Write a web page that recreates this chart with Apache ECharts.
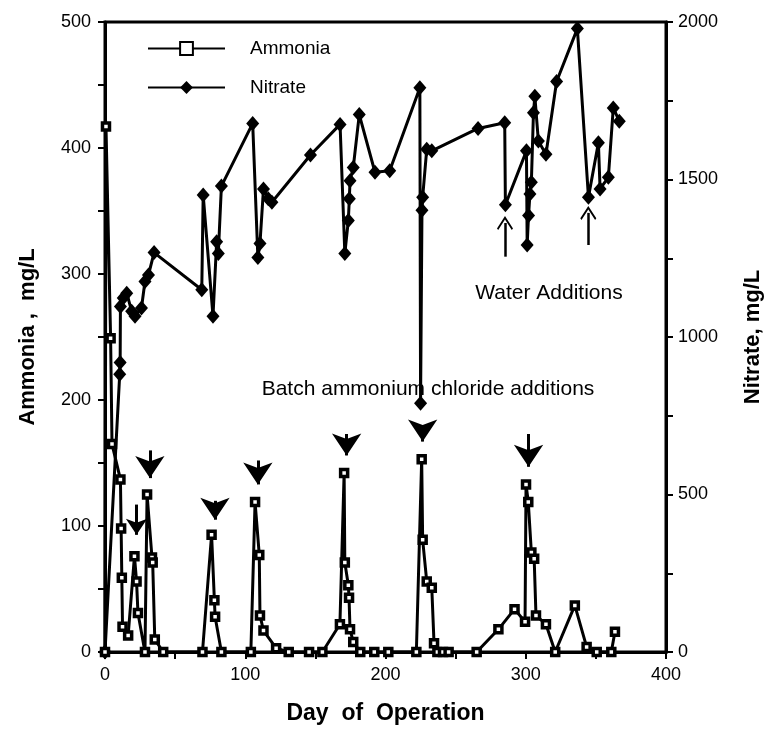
<!DOCTYPE html>
<html>
<head>
<meta charset="utf-8">
<script src="https://cdn.jsdelivr.net/npm/echarts@6/dist/echarts.min.js"></script>
<style>
  html, body { margin: 0; padding: 0; background: #fff; }
  #chart { width: 772px; height: 730px; }
</style>
</head>
<body>
<div id="chart"></div>
<script>
// ammonia (left axis, mg/L)
const ammoniaDays = [0, 0.7, 4, 5, 11, 11.5, 12, 12.5, 16.5, 21, 22.5, 23.5, 28.5, 30, 33.5, 34, 35.5, 41.5,
  69.5, 76, 78, 78.5, 83, 104, 107, 110, 110.5, 113, 122, 131, 145.5, 155,
  167.5, 170.5, 171, 173.5, 174, 174.7, 177, 182, 192, 202,
  222, 225.8, 226.5, 229.4, 233, 234.6, 237, 241, 245, 265,
  280.5, 292, 299.5, 300.2, 301.8, 304, 306, 307.3, 314.4, 321, 335, 343.4, 350.6, 361, 363.6]
const ammoniaValues = [0, 417, 249, 165, 137, 98, 59, 20, 13, 76, 56, 31, 0, 125, 75, 71, 10, 0,
  0, 93, 41, 28, 0, 0, 119, 77, 29, 17, 3, 0, 0, 0,
  22, 142, 71, 53, 43, 18, 8, 0, 0, 0,
  0, 153, 89, 56, 51, 7, 0, 0, 0, 0,
  18, 34, 24, 133, 119, 79, 74, 29, 22, 0, 37, 4, 0, 0, 16]

// nitrate (right axis, mg/L)
const nitrateDays = [0, 10.5, 10.8, 11, 13, 15.5, 19, 21.4, 26, 28.5, 31, 35,
  69, 70, 77, 79.6, 80.8, 83, 105.3, 109, 110.5, 113, 116.4, 119, 146.5,
  167.6, 171, 173.5, 174.2, 174.7, 177, 181.3, 192.5, 203,
  224.5, 225, 226, 226.5, 229.4, 233, 266, 285, 285.5,
  300.5, 301, 302, 303, 304, 305.5, 306.5, 309, 314.4, 322, 336.8,
  344.7, 351.8, 353, 358.9, 362.4, 366.7]
const nitrateValues = [0, 882, 919, 1097, 1124, 1139, 1082, 1066, 1092, 1176, 1197, 1268,
  1150, 1451, 1066, 1302, 1265, 1479, 1678, 1252, 1297, 1470, 1439, 1428, 1578,
  1675, 1265, 1370, 1439, 1496, 1538, 1706, 1523, 1528,
  1791, 790, 1402, 1444, 1596, 1591, 1662, 1680, 1420,
  1591, 1292, 1386, 1454, 1491, 1712, 1764, 1622, 1580, 1811, 1979,
  1444, 1617, 1470, 1507, 1727, 1685]

// batch ammonium chloride arrows (ammonia units): stem top -> arrow head
const batchArrowDays = [22.5, 32, 78.4, 109, 172.3, 226.5, 302]
const batchArrowTop = [117, 160, 120, 152, 173, 179, 173]
const batchArrowHead = [93, 138, 105, 133, 156, 167, 147]
const batchArrowSize = [16, 22, 22, 22, 22, 22, 22]

// water addition arrows (nitrate units): stem bottom -> arrow head
const waterArrowDays = [285.2, 344.6]
const waterArrowBottom = [1255, 1292]
const waterArrowHead = [1362, 1394]

const FONT = '"Liberation Sans", Arial, sans-serif'

const chart = echarts.init(document.getElementById('chart'))

const axisCommon = {
  axisLine: { show: true, lineStyle: { color: '#000', width: 3 } },
  axisTick: { show: true, length: 7, lineStyle: { color: '#000', width: 2 } },
  minorTick: { show: true, splitNumber: 2, length: 7, lineStyle: { color: '#000', width: 2 } },
  splitLine: { show: false },
  axisLabel: { color: '#000', fontSize: 18, fontFamily: FONT, formatter: v => String(v) }
}

const option = {
  animation: false,
  backgroundColor: '#fff',
  grid: {
    left: 105, right: 106, top: 22, bottom: 73,
    show: true, borderColor: '#000', borderWidth: 3
  },
  legend: {
    data: ['Ammonia', 'Nitrate'],
    orient: 'vertical',
    left: 142,
    top: 34,
    itemWidth: 77,
    itemHeight: 16,
    itemGap: 20,
    textStyle: { fontSize: 19, fontFamily: FONT, color: '#000', padding: [0, 0, 0, 20] }
  },
  xAxis: {
    type: 'value',
    min: 0, max: 400, interval: 100,
    ...axisCommon,
    axisLabel: { ...axisCommon.axisLabel, margin: 14 },
    name: 'Day  of  Operation',
    nameLocation: 'middle',
    nameGap: 50,
    nameTextStyle: { fontSize: 23, fontWeight: 'bold', fontFamily: FONT, color: '#000' }
  },
  yAxis: [
    {
      type: 'value',
      min: 0, max: 500, interval: 100,
      ...axisCommon,
      axisLabel: { ...axisCommon.axisLabel, margin: 14 },
      name: 'Ammonia ,  mg/L',
      nameLocation: 'middle',
      nameRotate: 90,
      nameGap: 66,
      nameTextStyle: { fontSize: 22, fontWeight: 'bold', fontFamily: FONT, color: '#000' }
    },
    {
      type: 'value',
      position: 'right',
      min: 0, max: 2000, interval: 500,
      ...axisCommon,
      axisLabel: { ...axisCommon.axisLabel, margin: 12 },
      name: 'Nitrate, mg/L',
      nameLocation: 'middle',
      nameRotate: 90,
      nameGap: 76,
      nameTextStyle: { fontSize: 22, fontWeight: 'bold', fontFamily: FONT, color: '#000' }
    }
  ],
  series: [
    {
      name: 'Ammonia',
      type: 'line',
      data: ammoniaDays.map((d, i) => [d, ammoniaValues[i]]),
      symbol: 'rect',
      symbolSize: 7,
      lineStyle: { color: '#000', width: 3 },
      itemStyle: { color: '#fff', borderColor: '#000', borderWidth: 3.5 },
      z: 3,
      markLine: {
        silent: true,
        symbol: ['none', 'arrow'],
        label: { show: false },
        lineStyle: { color: '#000', width: 3, type: 'solid' },
        data: batchArrowDays.map((d, i) => [
          { coord: [d, batchArrowTop[i]] },
          { coord: [d, batchArrowHead[i]], symbolSize: batchArrowSize[i] }
        ])
      }
    },
    {
      name: 'Nitrate',
      type: 'line',
      yAxisIndex: 1,
      data: nitrateDays.map((d, i) => [d, nitrateValues[i]]),
      symbol: 'diamond',
      symbolSize: [13, 15],
      lineStyle: { color: '#000', width: 3 },
      itemStyle: { color: '#000' },
      z: 2,
      markLine: {
        silent: true,
        symbol: ['none', 'path://M0,0L10,12L8.5,13.5L0,3.5L-8.5,13.5L-10,12Z'],
        label: { show: false },
        lineStyle: { color: '#000', width: 2.5, type: 'solid' },
        data: waterArrowDays.map((d, i) => [
          { coord: [d, waterArrowBottom[i]] },
          { coord: [d, waterArrowHead[i]], symbolSize: [16, 14] }
        ])
      }
    }
  ],
  graphic: [
    {
      type: 'text',
      x: 549, y: 293,
      style: { text: 'Water Additions', font: '21px ' + FONT, fill: '#000', align: 'center', verticalAlign: 'middle' }
    },
    {
      type: 'text',
      x: 428, y: 389,
      style: { text: 'Batch ammonium chloride additions', font: '21px ' + FONT, fill: '#000', align: 'center', verticalAlign: 'middle' }
    }
  ]
}

chart.setOption(option)
</script>
</body>
</html>
